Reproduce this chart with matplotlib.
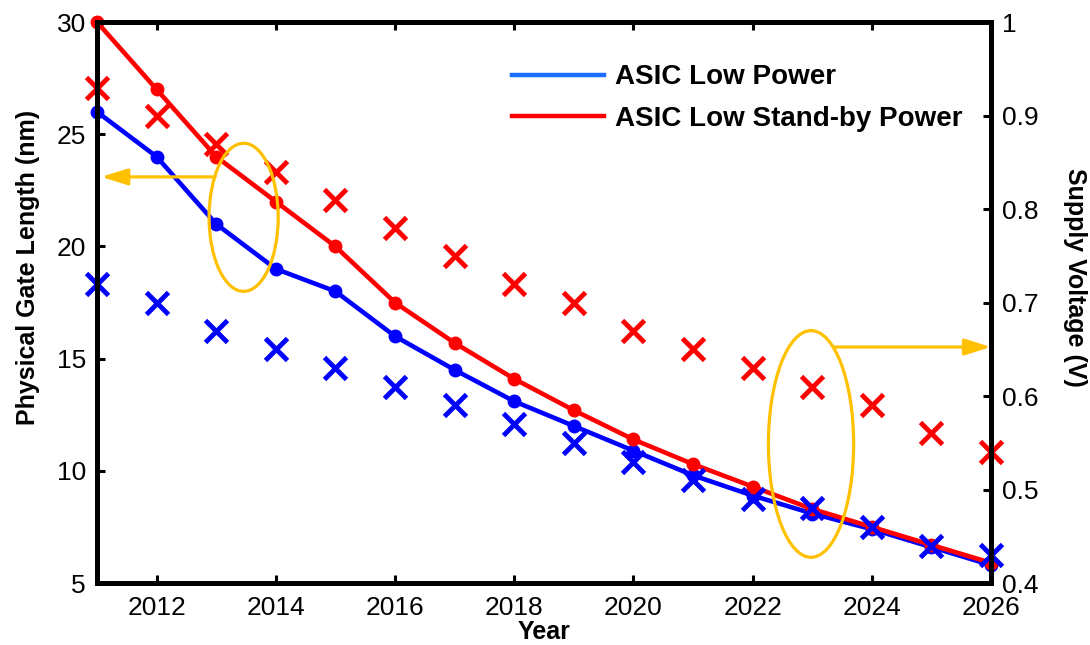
import matplotlib
matplotlib.use("Agg")
import matplotlib.pyplot as plt
from matplotlib.patches import Ellipse
from matplotlib.lines import Line2D
from matplotlib.ticker import FuncFormatter

plt.rcParams["font.family"] = ["Liberation Sans", "DejaVu Sans"]

YEARS = list(range(2011, 2027))

# physical gate length (nm), left axis
LG_LOW_POWER = [26, 24, 21, 19, 18, 16, 14.5, 13.1, 12.0, 10.9, 9.8, 8.9, 8.1, 7.4, 6.6, 5.8]
LG_LOW_STANDBY = [30, 27, 24, 22, 20, 17.5, 15.7, 14.1, 12.7, 11.4, 10.3, 9.3, 8.3, 7.5, 6.7, 5.9]

# supply voltage (V), right axis
VDD_LOW_POWER = [0.72, 0.70, 0.67, 0.65, 0.63, 0.61, 0.59, 0.57, 0.55, 0.53,
                 0.51, 0.49, 0.48, 0.46, 0.44, 0.43]
VDD_LOW_STANDBY = [0.93, 0.90, 0.87, 0.84, 0.81, 0.78, 0.75, 0.72, 0.70, 0.67,
                   0.65, 0.63, 0.61, 0.59, 0.56, 0.54]

LABELS = ["ASIC Low Power", "ASIC Low Stand-by Power"]
BLUE = "#0000FF"
RED = "#FF0000"
GOLD = "#FFC000"

fig = plt.figure(figsize=(10.9, 6.45), dpi=100)
ax = fig.add_axes([0.089, 0.096, 0.8202, 0.8698])
ax2 = ax.twinx()

line_kw = dict(lw=3.3, marker="o", markersize=9, clip_on=False)
ax.plot(YEARS, LG_LOW_POWER, color=BLUE, zorder=3, **line_kw)
ax.plot(YEARS, LG_LOW_STANDBY, color=RED, zorder=4, **line_kw)

x_kw = dict(ls="none", marker="x", markersize=16, mew=3.5, clip_on=False)
ax2.plot(YEARS, VDD_LOW_STANDBY, color=RED, **x_kw)
ax2.plot(YEARS, VDD_LOW_POWER, color=BLUE, **x_kw)

ax.set_xlim(2011, 2026)
ax.set_ylim(5, 30)
ax2.set_ylim(0.4, 1.0)
ax.set_xticks(range(2012, 2027, 2))
ax.set_yticks(range(5, 31, 5))
ax2.set_yticks([0.4, 0.5, 0.6, 0.7, 0.8, 0.9, 1.0])
ax2.yaxis.set_major_formatter(FuncFormatter(lambda v, _: f"{v:g}"))

for a in (ax, ax2):
    for s in a.spines.values():
        s.set_linewidth(3.6)
ax.tick_params(axis="x", direction="in", top=True, length=6, width=2.2,
               labelsize=19, pad=9)
ax.tick_params(axis="y", direction="in", length=6, width=2.2,
               labelsize=19, pad=8)
ax2.tick_params(axis="y", direction="in", length=6, width=2.2,
                labelsize=19, pad=8)

ax.set_xlabel("Year", fontsize=18, fontweight="bold")
ax.xaxis.set_label_coords(0.5, -0.066)
ax.set_ylabel("Physical Gate Length (nm)", fontsize=18, fontweight="bold", va="center")
ax.yaxis.set_label_coords(-0.077, 0.563)
ax2.set_ylabel("Supply Voltage (V)", fontsize=18, fontweight="bold",
               rotation=270, va="center")
ax2.yaxis.set_label_coords(1.094, 0.544)

# callouts: which markers belong to which axis
ax2.add_patch(Ellipse((2013.46, 21.3), 1.16, 6.6, transform=ax.transData,
                      fill=False, ec=GOLD, lw=2.3, zorder=10))
ax2.add_patch(Ellipse((2022.98, 11.2), 1.43, 10.1, transform=ax.transData,
                      fill=False, ec=GOLD, lw=2.3, zorder=10))
arrow = dict(arrowstyle="-|>,head_length=1.6,head_width=0.5", color=GOLD,
             lw=2.3, mutation_scale=10, shrinkA=0, shrinkB=0)
ax2.annotate("", xy=(2011.07, 23.1), xytext=(2012.98, 23.1),
             xycoords=ax.transData, textcoords=ax.transData,
             arrowprops=arrow, zorder=10)
ax2.annotate("", xy=(2026, 15.52), xytext=(2023.35, 15.52),
             xycoords=ax.transData, textcoords=ax.transData,
             arrowprops=arrow, zorder=10, annotation_clip=False)

handles = [Line2D([], [], color="#1A6DFF", lw=3.2),
           Line2D([], [], color=RED, lw=3.2)]
ax2.legend(handles, LABELS, loc="upper left", bbox_to_anchor=(0.4697, 0.900),
           bbox_transform=fig.transFigure, frameon=False, borderpad=0,
           borderaxespad=0, handlelength=3.3, handletextpad=0.42,
           labelspacing=0.55, prop=dict(size=20, weight="bold"))

fig.savefig("out.png", dpi=100)
